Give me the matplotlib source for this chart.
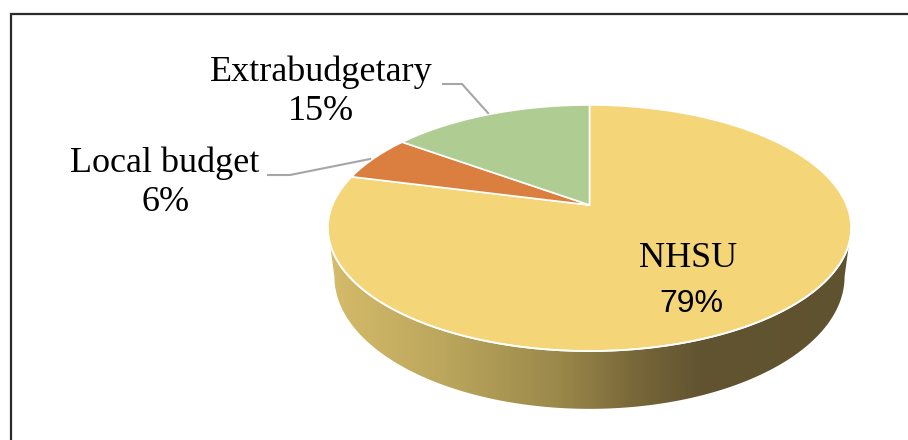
import numpy as np
import matplotlib
matplotlib.use('Agg')
import matplotlib.pyplot as plt
from matplotlib.patches import Polygon
from matplotlib.colors import LinearSegmentedColormap

labels = ['NHSU', 'Local budget', 'Extrabudgetary']
shares = [79, 6, 15]
pct_text = ['79%', '6%', '15%']
colors = ['#F4D678', '#DB7F41', '#AFCD92']

# side shading of the 3d rim, light on the left to dark on the right
rim_x = [330, 450, 560, 640, 700, 860]
rim_cols = ['#D5BB6A', '#BAA55C', '#9A884A', '#766638', '#625431', '#5F522F']

# pie geometry in pixels (perspective tilted disc)
cx, A = 589.5, 257.0
q, p, k = 205.0, 80.4, -0.187
depth = 47.0


def proj(t, drop=0.0, shrink=1.0):
    # t = angle clockwise from 12 o'clock
    u = np.sin(t)
    v = -np.cos(t)
    d = 1 + k * v
    x = cx + shrink * A * u / d
    y = (q + p * v) / d + drop / d
    return x, y


fig = plt.figure(figsize=(9.08, 4.40), dpi=100)
ax = fig.add_axes([0, 0, 1, 1])
ax.set_xlim(0, 908)
ax.set_ylim(440, 0)
ax.axis('off')

# frame (cut off at right and bottom)
ax.plot([11, 11, 908], [440, 14, 14], color='#2b2b2b', lw=1.6,
        solid_joinstyle='miter', zorder=1)

# rim
t_r = np.pi / 2 + np.arcsin(-k)
t_l = 3 * np.pi / 2 - np.arcsin(-k)
tt = np.linspace(t_r, t_l, 200)
xt, yt = proj(tt)
xb, yb = proj(tt[::-1], drop=depth, shrink=0.975)
side = Polygon(np.column_stack([np.r_[xt, xb], np.r_[yt, yb]]),
               closed=True, facecolor='none', edgecolor='none')
ax.add_patch(side)
stops = [(x - rim_x[0]) / (rim_x[-1] - rim_x[0]) for x in rim_x]
cmap = LinearSegmentedColormap.from_list('rim', list(zip(stops, rim_cols)))
grad = np.linspace(0, 1, 512)[None, :]
img = ax.imshow(grad, cmap=cmap, aspect='auto', zorder=2,
                extent=[rim_x[0], rim_x[-1], yb.max() + 2, yt.min() - 2])
img.set_clip_path(side)
ax.set_xlim(0, 908)
ax.set_ylim(440, 0)

# top face wedges
total = sum(shares)
start = 0.0
for val, col in zip(shares, colors):
    ang = 2 * np.pi * val / total
    ts = np.linspace(start, start + ang, max(int(val * 8), 20))
    xs, ys = proj(ts)
    pts = np.column_stack([np.r_[cx, xs], np.r_[q, ys]])
    ax.add_patch(Polygon(pts, closed=True, facecolor=col, edgecolor='white',
                         lw=1.2, joinstyle='miter', zorder=3))
    start += ang

# light line on the front edge of the top
ax.plot(xt, yt, color='white', lw=1.3, zorder=4)

serif = 'Liberation Serif'
fs = 26
ax.text(321, 81, labels[2], ha='center', va='baseline', fontsize=fs, family=serif, zorder=5)
ax.text(321, 120, pct_text[2], ha='center', va='baseline', fontsize=fs, family=serif, zorder=5)
ax.text(165, 172, labels[1], ha='center', va='baseline', fontsize=fs, family=serif, zorder=5)
ax.text(166, 211, pct_text[1], ha='center', va='baseline', fontsize=fs, family=serif, zorder=5)
ax.text(688, 267, labels[0], ha='center', va='baseline', fontsize=fs, family=serif, zorder=5)
ax.text(691, 312, pct_text[0], ha='center', va='baseline', fontsize=23, family='Liberation Sans', zorder=5)

# leader lines
ax.plot([443, 462, 488], [84, 84, 113], color='#A6A6A6', lw=1.5, zorder=4)
ax.plot([268, 290, 370], [175, 175, 159], color='#A6A6A6', lw=1.5, zorder=4)

fig.savefig('out.png', dpi=100)
